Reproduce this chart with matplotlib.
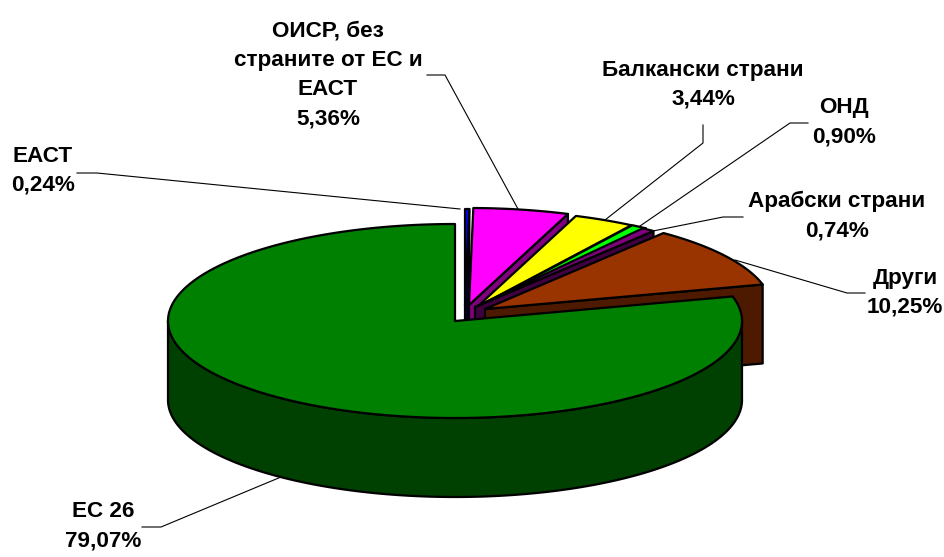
import numpy as np
import matplotlib
matplotlib.use("Agg")
import matplotlib.pyplot as plt
from matplotlib.patches import Polygon

categories = ["ЕАСТ", "ОИСР, без\nстраните от ЕС и\nЕАСТ", "Балкански страни", "ОНД", "Арабски страни", "Други", "ЕС 26"]
values = [0.24, 5.36, 3.44, 0.90, 0.74, 10.25, 79.07]

top_colors = ["#0000ff", "#ff00ff", "#ffff00", "#00ff00", "#800080", "#993300", "#008000"]
wall_colors = ["#000040", "#800080", "#808000", "#008000", "#400040", "#4d1a00", "#004000"]
apex_x = [465, 469, 477, 478, 475, 485, 455]
apex_y = [306, 305, 307, 307, 307, 309, 321]
RX, RY, DEPTH = 287, 97, 79

label_pos = [(43, 171), (328, 75), (703, 85), (844, 122), (837, 216), (905, 293), (103, 526)]
leaders = [
    [(77, 173), (97, 173), (460, 209)],
    [(427, 75), (445, 75), (518, 209)],
    [(703, 125), (703, 143), (605, 220)],
    [(808, 123), (790, 123), (640, 226)],
    [(743, 217), (723, 217), (653, 231)],
    [(865, 293), (847, 293), (735, 260)],
    [(142, 527), (161, 527), (281, 477)],
]

plt.rcParams["font.family"] = ["Liberation Sans", "DejaVu Sans"]
fig = plt.figure(figsize=(9.44, 5.57), dpi=100)
ax = fig.add_axes([0, 0, 1, 1])
ax.set_xlim(0, 944)
ax.set_ylim(557, 0)
ax.axis("off")

EDGE = dict(edgecolor="black", linewidth=1.6, joinstyle="round")


def arc(cx, cy, a0, a1):
    """Points on the ellipse; angles are clockwise from 12 o'clock, in degrees."""
    n = max(2, int(abs(a1 - a0)) * 2 + 2)
    t = np.radians(np.linspace(a0, a1, n))
    return np.column_stack([cx + RX * np.sin(t), cy - RY * np.cos(t)])


shift = np.array([0, DEPTH])
edges = np.concatenate([[0], np.cumsum(values)]) * 3.6
z = 2
for i in range(len(values)):
    a0, a1 = edges[i], edges[i + 1]
    c = np.array([apex_x[i], apex_y[i]], float)
    end = arc(c[0], c[1], a1, a1)[0]
    if i < len(values) - 1:
        face = np.array([c, end, end + shift, c + shift])
        ax.add_patch(Polygon(face, facecolor=wall_colors[i], zorder=z, **EDGE))
    else:
        lo, hi = max(a0, 90), min(a1, 270)
        rim = arc(c[0], c[1], lo, hi)
        ax.add_patch(Polygon(np.vstack([rim, (rim + shift)[::-1]]), facecolor=wall_colors[i], zorder=z, **EDGE))
    z += 1
    top = np.vstack([[c], arc(c[0], c[1], a0, a1)])
    ax.add_patch(Polygon(top, facecolor=top_colors[i], zorder=z, **EDGE))
    z += 1

for path in leaders:
    xy = np.array(path)
    ax.plot(xy[:, 0], xy[:, 1], color="black", lw=0.8, zorder=50)

for cat, val, (x, y) in zip(categories, values, label_pos):
    txt = f"{cat}\n{val:.2f}%".replace(".", ",")
    ax.text(x, y, txt, ha="center", va="center", fontsize=16.2, fontweight="bold",
            color="black", linespacing=1.5, zorder=60)

fig.savefig("out.png", dpi=100, facecolor="white")
